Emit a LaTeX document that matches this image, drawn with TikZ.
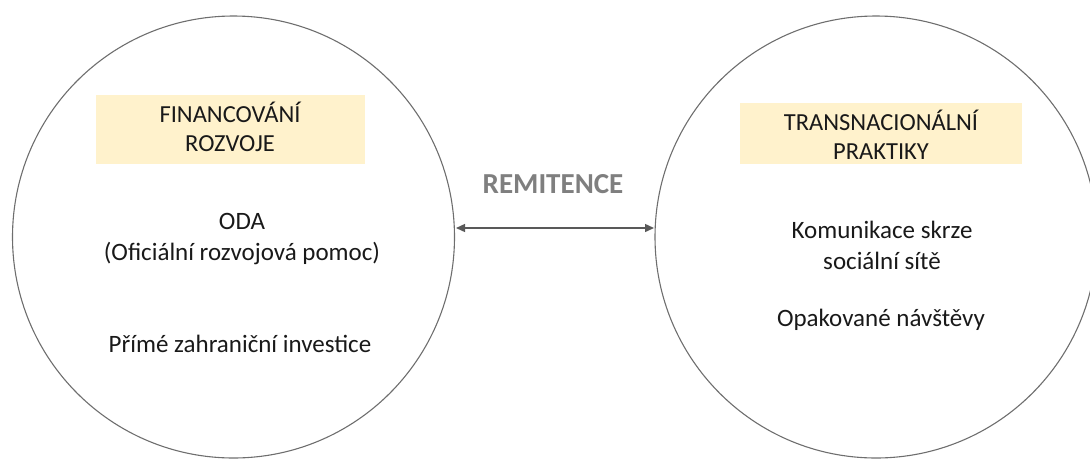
\documentclass[tikz,border=0pt]{standalone}
\usepackage{fontspec}
\setmainfont{Carlito}
\usetikzlibrary{arrows.meta}
\definecolor{ringgray}{HTML}{6E6E6E}
\definecolor{arrowgray}{HTML}{595959}
\definecolor{labelgray}{HTML}{7F7F7F}
\definecolor{titlefill}{HTML}{FFF2CC}
\begin{document}
\begin{tikzpicture}[x=1pt,y=-1pt,
  ring/.style={draw=ringgray,line width=1.1pt,circle,minimum size=442pt,inner sep=0pt},
  titlebox/.style={inner sep=0pt,align=center,font=\fontsize{24.5}{28.5}\selectfont,text=black!90},
  body/.style={align=center,font=\fontsize{25}{31}\selectfont,text=black!90},
  link/.style={draw=arrowgray,line width=1.4pt,{Triangle[length=9pt,width=8pt]}-{Triangle[length=9pt,width=8pt]}}]
\useasboundingbox (0,0) rectangle (1090,459);
\begin{scope}
\clip (0,0) rectangle (1090,459);
% the two circles
\node[ring] (fin) at (233.5,237) {};
\node[ring] (tra) at (876,237) {};
% headline boxes
\fill[titlefill] (96,95) rectangle (365,164);
\fill[titlefill] (740,103) rectangle (1022,164);
\node[titlebox] (finT) at (230,127) {FINANCOVÁNÍ\\ROZVOJE};
\node[titlebox] (traT) at (881,135) {TRANSNACIONÁLNÍ\\PRAKTIKY};
% contents of the left circle
\node[body] (oda) at (242,239) {ODA\\(Oficiální rozvojová pomoc)};
\node[body] (pzi) at (240,344) {Přímé zahraniční investice};
% contents of the right circle
\node[body] (kom) at (882,245) {Komunikace skrze\\sociální sítě};
\node[body] (nav) at (881,320) {Opakované návštěvy};
% link between the circles
\coordinate (l) at (456,228);
\coordinate (r) at (654,228);
\draw[link] (l) -- (r);
\node[font=\bfseries\fontsize{29}{33}\selectfont,text=labelgray] (rem) at (553,184) {REMITENCE};
\end{scope}
\end{tikzpicture}
\end{document}
